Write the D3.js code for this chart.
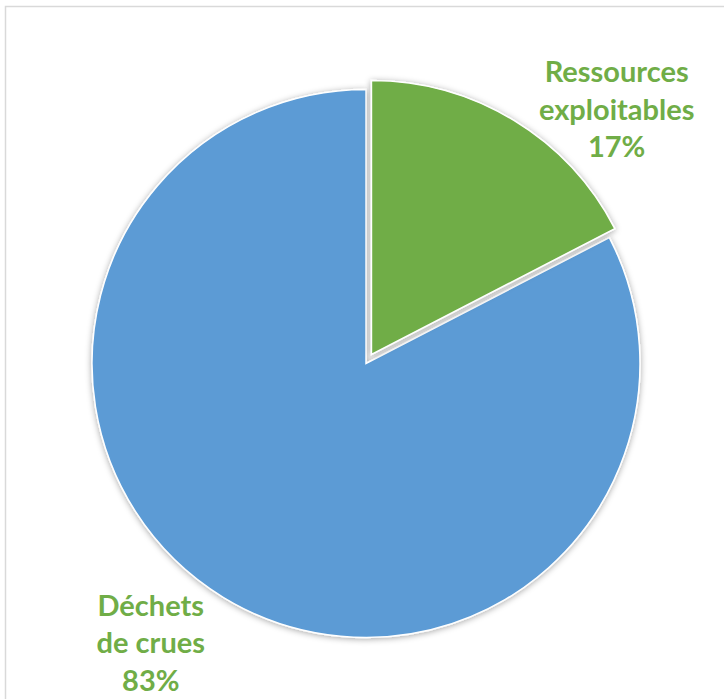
<!DOCTYPE html>
<html>
<head>
<meta charset="utf-8">
<script src="https://cdn.jsdelivr.net/npm/d3@7"></script>
<style>
  body { margin: 0; background: #fff; }
  svg { display: block; }
</style>
</head>
<body>
<script>
// data
var categories = ["Ressources exploitables", "Déchets de crues"];
var labelLines = [["Ressources", "exploitables"], ["Déchets", "de crues"]];
var values = [17.4, 82.6];
var colors = ["#70AD47", "#5B9BD5"];

var w = 724;
var h = 699;

var cx = 366, cy = 363.5;
var radius = 274;
var explode = [10.5, 0];        // green slice pulled out
var labelRadius = 355;
var labelNudge = [13.6, 6];     // degrees, where excel pushed the labels
var lineGap = 37.5;

var svg = d3.select("body")
  .append("svg")
  .attr("width", w)
  .attr("height", h);

// chart frame (runs past the right and bottom edges)
svg.append("rect")
  .attr("x", 5.5)
  .attr("y", 6.5)
  .attr("width", w + 20)
  .attr("height", h + 20)
  .attr("fill", "#fff")
  .attr("stroke", "#d9d9d9")
  .attr("stroke-width", 1.5);

var defs = svg.append("defs");
defs.append("filter")
  .attr("id", "shadow")
  .attr("x", "-20%").attr("y", "-20%")
  .attr("width", "140%").attr("height", "140%")
  .append("feDropShadow")
  .attr("dx", 0)
  .attr("dy", 1)
  .attr("stdDeviation", 3)
  .attr("flood-color", "#000")
  .attr("flood-opacity", 0.35);

var pie = d3.pie()
  .sort(null)
  .value(function(d) { return d; });

var arcs = pie(values);

var arc = d3.arc()
  .innerRadius(0)
  .outerRadius(radius);

var g = svg.append("g")
  .attr("transform", "translate(" + cx + "," + cy + ")");

// blue first so the green one sits on top
g.selectAll("path")
  .data(arcs.slice().reverse())
  .enter()
  .append("path")
  .attr("d", arc)
  .attr("transform", function(d) {
    var a = (d.startAngle + d.endAngle) / 2;
    var e = explode[d.index];
    return "translate(" + (Math.sin(a) * e) + "," + (-Math.cos(a) * e) + ")";
  })
  .attr("fill", function(d) { return colors[d.index]; })
  .attr("stroke", "#fff")
  .attr("stroke-width", 1.5)
  .attr("filter", "url(#shadow)");

// labels
var labels = g.selectAll("text.lbl")
  .data(arcs)
  .enter()
  .append("text")
  .attr("class", "lbl")
  .attr("text-anchor", "middle")
  .attr("font-family", "Lato, 'Open Sans', sans-serif")
  .attr("font-weight", "bold")
  .attr("font-size", 29)
  .attr("fill", "#70AD47")
  .each(function(d) {
    var a = (d.startAngle + d.endAngle) / 2 + labelNudge[d.index] * Math.PI / 180;
    var lx = Math.sin(a) * labelRadius;
    var ly = -Math.cos(a) * labelRadius;
    var lines = labelLines[d.index].concat([d3.format(".0f")(d.value) + "%"]);
    var t = d3.select(this);
    lines.forEach(function(s, i) {
      t.append("tspan")
        .attr("x", lx)
        .attr("y", ly + (i - 1) * lineGap + 7.5)
        .text(s);
    });
  });
</script>
</body>
</html>
